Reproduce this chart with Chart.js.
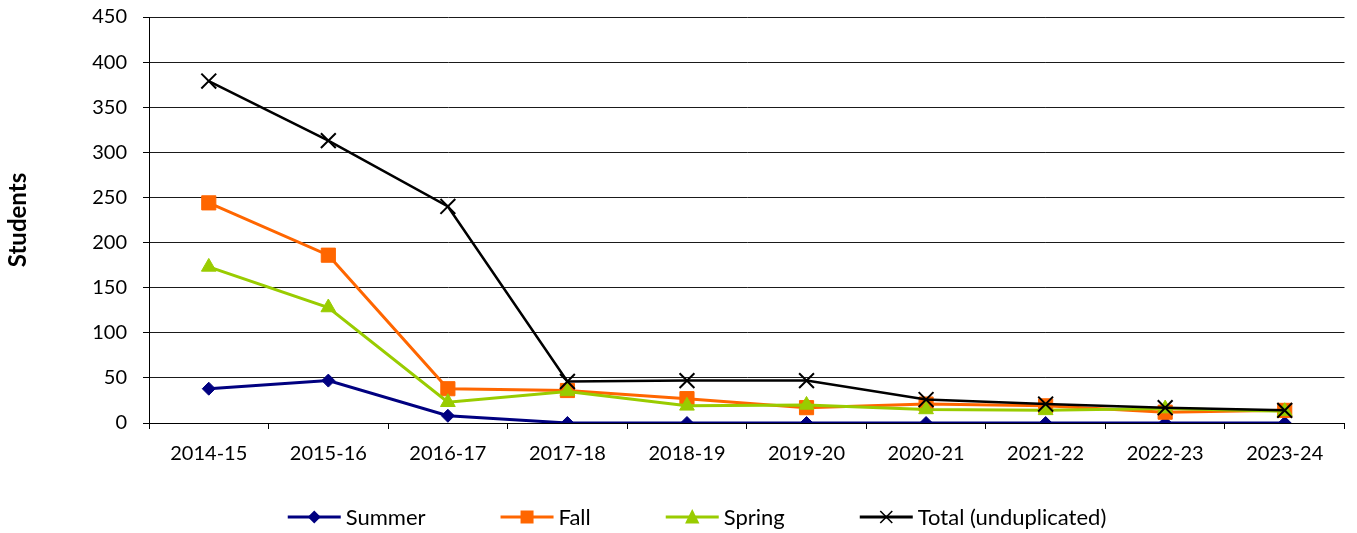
<!DOCTYPE html>
<html>
<head>
<meta charset="utf-8">
<script src="https://cdn.jsdelivr.net/npm/chart.js@4"></script>
<style>
  html, body { margin: 0; padding: 0; background: #ffffff; }
  #wrap { width: 1357px; height: 533px; }
</style>
</head>
<body>
<div id="wrap"><canvas id="c" width="1357" height="533"></canvas></div>
<script>
// ---- data ----
const categories = ['2014-15', '2015-16', '2016-17', '2017-18', '2018-19', '2019-20', '2020-21', '2021-22', '2022-23', '2023-24'];
const summer = [38, 47, 8, 0, 0, 0, 0, 0, 0, 0];
const fall   = [244, 186, 38, 36, 27, 17, 21, 19, 12, 14];
const spring = [173, 128, 23, 35, 19, 20, 15, 14, 16, 13];
const total  = [379, 313, 240, 46, 47, 47, 26, 21, 17, 14];
const seriesNames = ['Summer', 'Fall', 'Spring', 'Total (unduplicated)'];
const yTicks = [0, 50, 100, 150, 200, 250, 300, 350, 400, 450];
const yTitle = 'Students';

const FONT = 'Lato, "Open Sans", "Liberation Sans", sans-serif';

const styles = [
  { color: '#000080', style: 'rectRot', radius: 6.5, lw: 3, shape: 'diamond', order: 3 },
  { color: '#FF6600', style: 'rect', radius: 10, lw: 3, shape: 'square', order: 2 },
  { color: '#99CC00', style: 'triangle', radius: 8.5, lw: 3, shape: 'triangle', order: 1 },
  { color: '#000000', style: 'crossRot', radius: 10.5, lw: 2.5, shape: 'cross', order: 0 }
];
const values = [summer, fall, spring, total];

const datasets = values.map((v, i) => {
  const s = styles[i];
  return {
    label: seriesNames[i],
    data: v,
    borderColor: s.color,
    backgroundColor: s.color,
    borderWidth: s.lw,
    pointStyle: s.style,
    pointRadius: s.radius,
    pointHoverRadius: s.radius,
    pointBackgroundColor: s.color,
    pointBorderColor: s.color,
    pointBorderWidth: s.shape === 'cross' ? 2 : 1,
    tension: 0,
    fill: false,
    order: s.order
  };
});

function drawMarker(ctx, shape, color, cx, cy) {
  ctx.save();
  ctx.fillStyle = color; ctx.strokeStyle = color;
  ctx.beginPath();
  if (shape === 'diamond') {
    const r = 6.5;
    ctx.moveTo(cx, cy - r); ctx.lineTo(cx + r, cy); ctx.lineTo(cx, cy + r); ctx.lineTo(cx - r, cy); ctx.closePath(); ctx.fill();
  } else if (shape === 'square') {
    const s = 6.5;
    ctx.rect(cx - s, cy - s, 2 * s, 2 * s); ctx.fill();
  } else if (shape === 'triangle') {
    const r = 8;
    ctx.moveTo(cx, cy - r); ctx.lineTo(cx + r * 0.9, cy + r * 0.8); ctx.lineTo(cx - r * 0.9, cy + r * 0.8); ctx.closePath(); ctx.fill();
  } else if (shape === 'cross') {
    const r = 6;
    ctx.lineWidth = 1.6;
    ctx.moveTo(cx - r, cy - r); ctx.lineTo(cx + r, cy + r);
    ctx.moveTo(cx + r, cy - r); ctx.lineTo(cx - r, cy + r); ctx.stroke();
  }
  ctx.restore();
}

// legend drawn as Excel-like line+marker entries
const legendCfg = { centerX: 697, y: 517, lineLen: 53, textGap: 5, itemGap: 75, fontSize: 22 };
const excelLegend = {
  id: 'excelLegend',
  afterDraw(chart) {
    const ctx = chart.ctx;
    const c = legendCfg;
    ctx.save();
    ctx.font = c.fontSize + 'px ' + FONT;
    ctx.textBaseline = 'middle';
    ctx.textAlign = 'left';
    const items = chart.data.datasets.map((ds, i) => ({ text: ds.label, st: styles[i], w: ctx.measureText(ds.label).width }));
    const totalW = items.reduce((a, it) => a + c.lineLen + c.textGap + it.w, 0) + c.itemGap * (items.length - 1);
    let x = c.centerX - totalW / 2;
    items.forEach(it => {
      ctx.strokeStyle = it.st.color; ctx.lineWidth = 3;
      ctx.beginPath(); ctx.moveTo(x, c.y); ctx.lineTo(x + c.lineLen, c.y); ctx.stroke();
      drawMarker(ctx, it.st.shape, it.st.color, x + c.lineLen / 2, c.y);
      ctx.fillStyle = '#000000';
      ctx.fillText(it.text, x + c.lineLen + c.textGap, c.y + 1);
      x += c.lineLen + c.textGap + it.w + c.itemGap;
    });
    ctx.restore();
  }
};

new Chart(document.getElementById('c'), {
  type: 'line',
  data: { labels: categories, datasets: datasets },
  plugins: [excelLegend],
  options: {
    responsive: false,
    animation: false,
    devicePixelRatio: 1,
    layout: { padding: { left: 0, right: 5, top: 17, bottom: 67 } },
    plugins: {
      tooltip: { enabled: false },
      title: { display: false },
      legend: { display: false }
    },
    scales: {
      x: {
        offset: true,
        grid: { offset: true, drawOnChartArea: false, drawTicks: true, tickLength: 6, color: '#000000' },
        border: { display: true, color: '#000000', width: 1 },
        ticks: { color: '#000000', font: { family: FONT, size: 20 }, padding: 13, maxRotation: 0, autoSkip: false },
        afterFit(scale) { scale.height = 43; }
      },
      y: {
        min: 0, max: 450,
        afterBuildTicks(scale) { scale.ticks = yTicks.map(v => ({ value: v })); },
        grid: { color: '#1a1a1a', lineWidth: 1, drawTicks: true, tickLength: 6, tickColor: '#000000' },
        border: { display: true, color: '#000000', width: 1 },
        ticks: { color: '#000000', font: { family: FONT, size: 20 }, padding: 16 },
        title: { display: true, text: yTitle, color: '#000000', font: { family: FONT, size: 24, weight: 'bold' }, padding: { top: 4, bottom: 0 } },
        afterFit(scale) { scale.width = 149; scale.paddingTop = 11; scale.paddingBottom = 11; }
      }
    }
  }
});
</script>
</body>
</html>
